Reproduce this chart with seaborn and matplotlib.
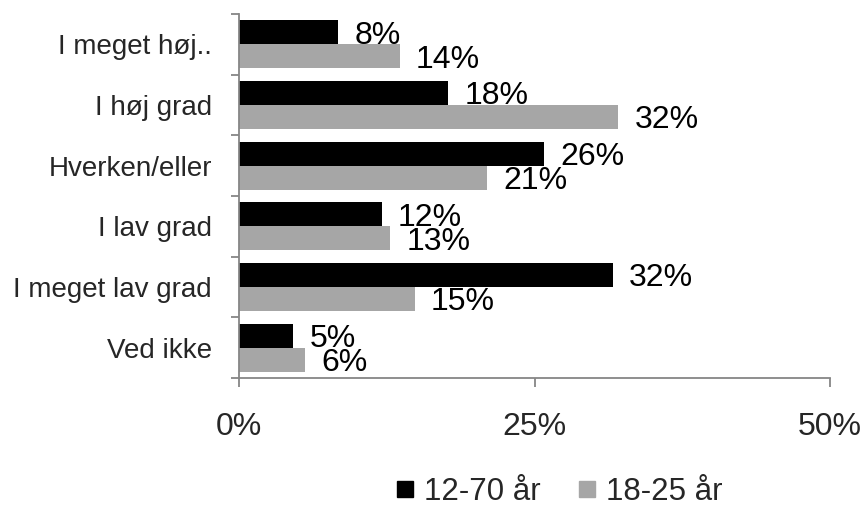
import matplotlib
matplotlib.use("Agg")
import matplotlib.pyplot as plt
from matplotlib.lines import Line2D
import seaborn as sns
import pandas as pd

categories = ["I meget høj..", "I høj grad", "Hverken/eller", "I lav grad", "I meget lav grad", "Ved ikke"]
series_names = ["12-70 år", "18-25 år"]
values_12_70 = [8.4, 17.7, 25.8, 12.1, 31.6, 4.6]
values_18_25 = [13.6, 32.1, 21.0, 12.8, 14.9, 5.6]
labels_12_70 = ["8%", "18%", "26%", "12%", "32%", "5%"]
labels_18_25 = ["14%", "32%", "21%", "13%", "15%", "6%"]
xticks = [0, 25, 50]
xtick_labels = ["0%", "25%", "50%"]
colors = ["#000000", "#A6A6A6"]

sns.set_theme(style="white")
plt.rcParams["font.family"] = ["Liberation Sans", "DejaVu Sans"]

df = pd.DataFrame({
    "category": categories * 2,
    "value": values_12_70 + values_18_25,
    "group": [series_names[0]] * len(categories) + [series_names[1]] * len(categories),
})

fig = plt.figure(figsize=(8.67, 5.09), dpi=100)
ax = fig.add_axes([239 / 867, 1 - 378 / 509, (830 - 239) / 867, (378 - 14) / 509])

sns.barplot(data=df, y="category", x="value", hue="group", orient="h",
            palette=colors, width=0.79, ax=ax, legend=False, linewidth=0)

# annotations
for cont, labs in zip(ax.containers, [labels_12_70, labels_18_25]):
    anns = ax.bar_label(cont, labels=labs, padding=11.5, fontsize=23, color="black")
    for a in anns:
        a.xyann = (11.5, -2.5)

ax.set_xlim(0, 50)
ax.set_ylim(5.5, -0.5)
ax.set_xticks(xticks)
ax.set_xticklabels(xtick_labels, fontsize=23)
ax.set_yticks(range(len(categories)))
ax.set_yticklabels(categories, fontsize=20)
ax.set_yticks([i - 0.5 for i in range(len(categories) + 1)], minor=True)
ax.tick_params(axis="y", which="major", length=0, pad=19.5)
ax.tick_params(axis="y", which="minor", length=6, width=1.3, color="#868686", left=True)
ax.tick_params(axis="x", which="major", length=6.5, width=1.3, color="#868686", bottom=True, pad=18)
ax.set_xlabel("")
ax.set_ylabel("")

for s in ["top", "right"]:
    ax.spines[s].set_visible(False)
for s in ["left", "bottom"]:
    ax.spines[s].set_color("#868686")
    ax.spines[s].set_linewidth(1.3)
ax.grid(False)

handles = [Line2D([], [], marker="s", linestyle="none", markersize=11,
                  markerfacecolor=c, markeredgecolor=c) for c in colors]
fig.legend(handles, series_names, loc="center", bbox_to_anchor=(556 / 867, 1 - 492 / 509),
           ncol=2, frameon=False, fontsize=22.5, handletextpad=0.1, columnspacing=1.0,
           handlelength=1.0, borderpad=0)

fig.savefig("out.png", dpi=100)
